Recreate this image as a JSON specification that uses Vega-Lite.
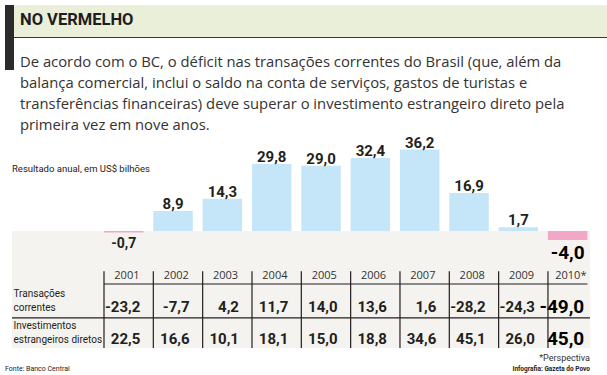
{
  "$schema": "https://vega.github.io/schema/vega-lite/v6.json",
  "background": "white",
  "padding": {"top": 5, "left": 0, "right": 0, "bottom": 0},
  "spacing": 0,
  "bounds": "full",
  "datasets": {
    "dados": [
      {"ano": "2001", "saldo": -0.7, "tc": -23.2, "ied": 22.5},
      {"ano": "2002", "saldo": 8.9, "tc": -7.7, "ied": 16.6},
      {"ano": "2003", "saldo": 14.3, "tc": 4.2, "ied": 10.1},
      {"ano": "2004", "saldo": 29.8, "tc": 11.7, "ied": 18.1},
      {"ano": "2005", "saldo": 29.0, "tc": 14.0, "ied": 15.0},
      {"ano": "2006", "saldo": 32.4, "tc": 13.6, "ied": 18.8},
      {"ano": "2007", "saldo": 36.2, "tc": 1.6, "ied": 34.6},
      {"ano": "2008", "saldo": 16.9, "tc": -28.2, "ied": 45.1},
      {"ano": "2009", "saldo": 1.7, "tc": -24.3, "ied": 26.0},
      {"ano": "2010*", "saldo": -4.0, "tc": -49.0, "ied": 45.0}
    ]
  },
  "config": {
    "view": {"stroke": null},
    "concat": {"spacing": 0},
    "locale": {"number": {"decimal": ",", "thousands": ".", "grouping": [3], "currency": ["", ""], "minus": "-"}}
  },
  "vconcat": [
    {
      "spacing": 0, "bounds": "flush",
      "hconcat": [
        {"width": 5, "height": 32, "data": {"values": []}, "mark": "rect"},
        {"width": 9, "height": 32, "data": {"values": []}, "mark": "rect", "view": {"fill": "#2b2b2b", "stroke": null}},
        {
          "width": 593, "height": 32,
          "data": {"values": []}, "mark": "rect",
          "view": {"fill": "#e9efd9", "stroke": null},
          "title": {
            "text": "NO VERMELHO",
            "orient": "bottom", "anchor": "start", "frame": "group",
            "offset": -25, "dx": 6,
            "font": "Roboto, sans-serif",
            "fontSize": 16.5, "fontWeight": "bold", "color": "#1e1e1e"
          }
        }
      ]
    },
    {
      "spacing": 0, "bounds": "flush",
      "hconcat": [
        {"width": 5, "height": 1, "data": {"values": []}, "mark": "rect"},
        {"width": 9, "height": 1, "data": {"values": []}, "mark": "rect", "view": {"fill": "#2b2b2b", "stroke": null}},
        {"width": 593, "height": 1, "data": {"values": []}, "mark": "rect", "view": {"fill": "#3a3a3a", "stroke": null}}
      ]
    },
    {
      "spacing": 0, "bounds": "flush",
      "hconcat": [
        {"width": 5, "height": 32, "data": {"values": []}, "mark": "rect"},
        {"width": 9, "height": 32, "data": {"values": []}, "mark": "rect", "view": {"fill": "#2b2b2b", "stroke": null}},
        {
          "width": 593, "height": 95,
          "data": {"values": []}, "mark": "rect",
          "title": {
            "text": [
              "De acordo com o BC, o déficit nas transações correntes do Brasil (que, além da",
              "balança comercial, inclui o saldo na conta de serviços, gastos de turistas e",
              "transferências financeiras) deve superar o investimento estrangeiro direto pela",
              "primeira vez em nove anos."
            ],
            "orient": "bottom", "anchor": "start", "frame": "group",
            "offset": -78, "dx": 6,
            "font": "'Open Sans', 'Noto Sans', sans-serif",
            "fontSize": 14.8, "fontWeight": "normal", "color": "#333333", "lineHeight": 21
          }
        }
      ]
    },
    {
      "spacing": 0, "bounds": "flush",
      "hconcat": [
        {"width": 12, "height": 98, "data": {"values": []}, "mark": "rect"},
        {
          "width": 578, "height": 98,
          "data": {"name": "dados"},
          "title": {
            "text": "Resultado anual, em US$ bilhões",
            "orient": "top", "anchor": "start", "frame": "group", "offset": -40,
            "font": "Roboto, sans-serif",
            "fontSize": 9.5, "fontWeight": "normal", "color": "#222222"
          },
          "layer": [
            {
              "transform": [{"filter": "datum.saldo > 0"}],
              "mark": {"type": "bar", "color": "#c5e5f8"},
              "encoding": {
                "x": {"field": "ano", "type": "nominal", "axis": null,
                      "scale": {"type": "band", "domain": ["2001", "2002", "2003", "2004", "2005", "2006", "2007", "2008", "2009", "2010*"], "paddingInner": 0.2, "paddingOuter": 0.9586, "align": 0.9728}},
                "y": {"field": "saldo", "type": "quantitative", "axis": null, "scale": {"domain": [0, 43.556], "nice": false}}
              }
            },
            {
              "transform": [{"filter": "datum.saldo > 0"}],
              "mark": {"type": "text", "font": "Roboto, sans-serif", "fontWeight": "bold", "fontSize": 15, "color": "#231f20", "baseline": "alphabetic", "dy": -2},
              "encoding": {
                "x": {"field": "ano", "type": "nominal", "axis": null},
                "y": {"field": "saldo", "type": "quantitative", "axis": null},
                "text": {"field": "saldo", "type": "quantitative", "format": ".1f"}
              }
            }
          ]
        },
        {"width": 17, "height": 98, "data": {"values": []}, "mark": "rect"}
      ]
    },
    {
      "spacing": 0, "bounds": "flush",
      "hconcat": [
        {"width": 12, "height": 117, "data": {"values": []}, "mark": "rect"},
        {
          "width": 578, "height": 117,
          "view": {"fill": "#f4f3ef", "stroke": null},
          "data": {"name": "dados"},
          "resolve": {"scale": {"y": "independent"}},
          "layer": [
            {
              "layer": [
                {
                  "transform": [{"filter": "datum.saldo < 0"}],
                  "mark": {"type": "bar", "color": "#f3a7c7"},
                  "encoding": {
                    "x": {"field": "ano", "type": "nominal", "axis": null,
                          "scale": {"type": "band", "domain": ["2001", "2002", "2003", "2004", "2005", "2006", "2007", "2008", "2009", "2010*"], "paddingInner": 0.2, "paddingOuter": 0.9586, "align": 0.9728}},
                    "y": {"field": "saldo", "type": "quantitative", "axis": null, "scale": {"domain": [-52, 0], "nice": false}}
                  }
                },
                {
                  "transform": [{"filter": "datum.saldo < 0"}],
                  "mark": {"type": "text", "font": "Roboto, sans-serif", "fontWeight": "bold", "baseline": "top", "dy": 4},
                  "encoding": {
                    "x": {"field": "ano", "type": "nominal", "axis": null},
                    "y": {"field": "saldo", "type": "quantitative", "axis": null},
                    "text": {"field": "saldo", "type": "quantitative", "format": ".1f"},
                    "size": {"condition": {"test": "datum.ano == '2010*'", "value": 19}, "value": 14},
                    "color": {"condition": {"test": "datum.ano == '2010*'", "value": "#000000"}, "value": "#231f20"}
                  }
                }
              ]
            },
            {
              "layer": [
                {
                  "mark": {"type": "text", "font": "'Open Sans', 'Noto Sans', sans-serif", "fontSize": 11, "color": "#333333", "baseline": "middle", "align": "center"},
                  "encoding": {
                    "x": {"field": "ano", "type": "nominal", "axis": null, "bandPosition": 0.58},
                    "y": {"datum": "Ano", "type": "nominal", "bandPosition": 0.75, "title": null,
                          "scale": {"type": "band", "domain": ["Ano", "Transações correntes", "Investimentos estrangeiros diretos"], "paddingInner": 0, "paddingOuter": 0.328125, "align": 1},
                          "axis": {"orient": "left", "title": null, "domain": false, "ticks": false, "tickSize": 0, "grid": false,
                                   "labelAlign": "left", "labelBaseline": "middle", "labelPadding": -1, "labelOffset": -6.5,
                                   "labelFont": "Roboto, sans-serif",
                                   "labelFontSize": 10, "labelColor": "#231f20", "labelLineHeight": 14.5,
                                   "labelExpr": "datum.value == 'Ano' ? '' : [substring(datum.value, 0, indexof(datum.value, ' ')), substring(datum.value, indexof(datum.value, ' ') + 1)]"}},
                    "text": {"field": "ano"}
                  }
                },
                {
                  "mark": {"type": "text", "font": "Roboto, sans-serif", "fontWeight": "bold", "align": "right", "baseline": "middle"},
                  "encoding": {
                    "x": {"field": "ano", "type": "nominal", "axis": null, "bandPosition": 0.92},
                    "y": {"datum": "Transações correntes", "type": "nominal", "bandPosition": 0.72, "title": null},
                    "text": {"field": "tc", "type": "quantitative", "format": ".1f"},
                    "size": {"condition": {"test": "datum.ano == '2010*'", "value": 19}, "value": 15},
                    "color": {"condition": {"test": "datum.ano == '2010*'", "value": "#000000"}, "value": "#231f20"}
                  }
                },
                {
                  "mark": {"type": "text", "font": "Roboto, sans-serif", "fontWeight": "bold", "align": "right", "baseline": "middle"},
                  "encoding": {
                    "x": {"field": "ano", "type": "nominal", "axis": null, "bandPosition": 0.92},
                    "y": {"datum": "Investimentos estrangeiros diretos", "type": "nominal", "bandPosition": 0.72, "title": null},
                    "text": {"field": "ied", "type": "quantitative", "format": ".1f"},
                    "size": {"condition": {"test": "datum.ano == '2010*'", "value": 19}, "value": 15},
                    "color": {"condition": {"test": "datum.ano == '2010*'", "value": "#000000"}, "value": "#231f20"}
                  }
                },
                {
                  "mark": {"type": "rule", "color": "#231f20", "strokeWidth": 1.2},
                  "encoding": {
                    "x": {"field": "ano", "type": "nominal", "axis": null, "bandPosition": 0},
                    "y": {"datum": "Ano", "type": "nominal", "bandPosition": 0.6, "title": null},
                    "y2": {"datum": "Investimentos estrangeiros diretos", "bandPosition": 1}
                  }
                },
                {
                  "data": {"values": [{"linha": "Transações correntes", "de": "2001", "ate": "2010*"}]},
                  "mark": {"type": "rule", "color": "#231f20", "strokeWidth": 1.2},
                  "encoding": {
                    "x": {"field": "de", "type": "nominal", "axis": null, "bandPosition": 0},
                    "x2": {"field": "ate", "bandPosition": 1},
                    "y": {"field": "linha", "type": "nominal", "bandPosition": 0, "title": null}
                  }
                },
                {
                  "data": {"values": [{"linha": "Investimentos estrangeiros diretos"}]},
                  "mark": {"type": "rule", "color": "#231f20", "strokeWidth": 1.2},
                  "encoding": {
                    "y": {"field": "linha", "type": "nominal", "bandPosition": 0.06, "title": null}
                  }
                }
              ]
            }
          ]
        },
        {"width": 17, "height": 117, "data": {"values": []}, "mark": "rect"}
      ]
    },
    {
      "spacing": 0, "bounds": "flush",
      "hconcat": [
        {
          "width": 300, "height": 25, "data": {"values": []}, "mark": "rect",
          "title": {"text": "Fonte: Banco Central", "orient": "bottom", "anchor": "start", "frame": "group", "offset": -10, "dx": 5,
                    "font": "Roboto, sans-serif", "fontSize": 7, "fontWeight": "normal", "color": "#222222"}
        },
        {
          "width": 290, "height": 25, "data": {"values": []}, "mark": "rect",
          "title": {"text": "*Perspectiva", "subtitle": "Infografia: Gazeta do Povo", "orient": "bottom", "anchor": "end", "frame": "group", "offset": -21,
                    "font": "Roboto, sans-serif", "fontSize": 9, "fontWeight": "normal", "color": "#333333",
                    "subtitleFont": "Roboto, sans-serif", "subtitleFontSize": 6.5, "subtitleFontWeight": "bold", "subtitleColor": "#222222", "subtitlePadding": 3}
        },
        {"width": 17, "height": 25, "data": {"values": []}, "mark": "rect"}
      ]
    },
    {"width": 607, "height": 1, "data": {"values": []}, "mark": "rect", "view": {"fill": "#222222", "stroke": null}}
  ]
}
